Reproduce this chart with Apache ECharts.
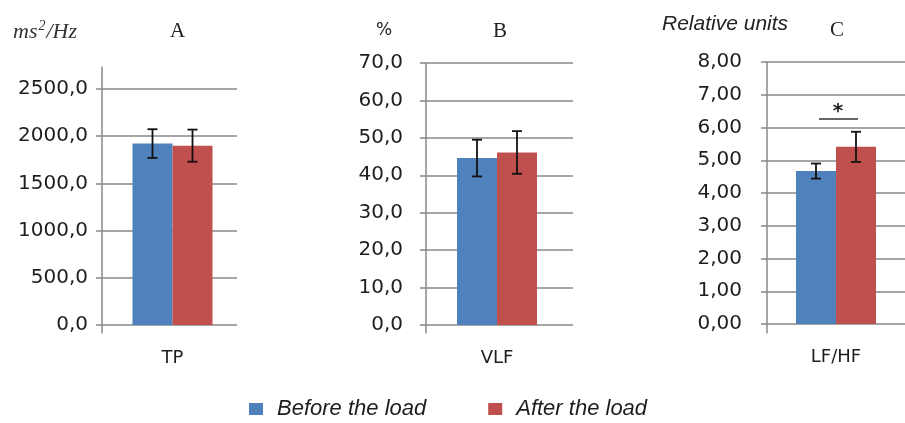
<!DOCTYPE html>
<html>
<head>
<meta charset="utf-8">
<script src="https://cdn.jsdelivr.net/npm/echarts@6/dist/echarts.min.js"></script>
<style>html,body{margin:0;padding:0;background:#fff}#c{width:905px;height:423px}</style>
</head>
<body>
<div id="c"></div>
<script>
// ---- data ----
const categories = ['TP', 'VLF', 'LF/HF'];
const seriesNames = ['Before the load', 'After the load'];
const beforeMeans = [1922, 44.6, 4.67];
const afterMeans = [1900, 46.1, 5.41];
const beforeErr = [152, 4.9, 0.23];
const afterErr = [170, 5.7, 0.46];
const axisMax = [2500, 70, 8];
const axisInterval = [500, 10, 1];
const tickLabelsA = ['0,0', '500,0', '1000,0', '1500,0', '2000,0', '2500,0'];
const tickLabelsB = ['0,0', '10,0', '20,0', '30,0', '40,0', '50,0', '60,0', '70,0'];
const tickLabelsC = ['0,00', '1,00', '2,00', '3,00', '4,00', '5,00', '6,00', '7,00', '8,00'];
const tickLabels = [tickLabelsA, tickLabelsB, tickLabelsC];
const unitLabels = ['ms', '%', 'Relative units'];
const panelLetters = ['A', 'B', 'C'];
const sigLevelC = [6.26]; // significance bar level on panel C

// ---- layout (styles only) ----
const BLUE = '#4F81BD', RED = '#C0504D', GRID = '#888888', TXT = '#1e1e1e';
const BW = 40;
const panels = [
  { left: 102, top: 89, h: 236, frameW: 135, barW: 141, lineTop: 67, lineBottom: 333, margin: 14 },
  { left: 426, top: 63, h: 262, frameW: 147, barW: 142, lineTop: 63, lineBottom: 333, margin: 23 },
  { left: 767, top: 62, h: 262, frameW: 138, barW: 143, lineTop: 62, lineBottom: 333, margin: 25 }
];

const grid = [], xAxis = [], yAxis = [], series = [];
panels.forEach((p, i) => {
  const g = grid.length;
  grid.push({ left: p.left, top: p.top, width: p.frameW, height: p.h });
  grid.push({ left: p.left, top: p.top, width: p.barW, height: p.h });
  grid.push({ left: p.left, top: p.lineTop, width: 10, height: p.lineBottom - p.lineTop });
  // frame axes
  xAxis.push({ gridIndex: g, type: 'category', data: [categories[i]], show: false });
  yAxis.push({
    gridIndex: g, type: 'value', min: 0, max: axisMax[i], interval: axisInterval[i],
    axisLine: { show: false },
    axisTick: { show: true, inside: false, length: 6, lineStyle: { color: GRID, width: 1.5 } },
    splitLine: { show: true, lineStyle: { color: GRID, width: 1.5 } },
    axisLabel: {
      margin: p.margin, color: TXT, fontFamily: 'DejaVu Sans', fontSize: 20,
      formatter: v => tickLabels[i][Math.round(v / axisInterval[i])]
    }
  });
  // bar axes
  xAxis.push({
    gridIndex: g + 1, type: 'category', data: [categories[i]],
    axisLine: { show: false }, axisTick: { show: false }, splitLine: { show: false },
    axisLabel: { margin: 24, color: TXT, fontFamily: 'DejaVu Sans', fontSize: 18 }
  });
  yAxis.push({ gridIndex: g + 1, type: 'value', min: 0, max: axisMax[i], interval: axisInterval[i], show: false });
  // axis line only
  xAxis.push({ gridIndex: g + 2, type: 'category', data: [''], show: false });
  yAxis.push({
    gridIndex: g + 2, type: 'value', min: 0, max: 1,
    axisLine: { show: true, lineStyle: { color: GRID, width: 1.5 } },
    axisTick: { show: false }, axisLabel: { show: false }, splitLine: { show: false }
  });
  const ax = g + 1;
  series.push({
    name: seriesNames[0], type: 'bar', xAxisIndex: ax, yAxisIndex: ax,
    barWidth: BW, barGap: '0%', itemStyle: { color: BLUE }, data: [beforeMeans[i]]
  });
  series.push({
    name: seriesNames[1], type: 'bar', xAxisIndex: ax, yAxisIndex: ax,
    barWidth: BW, barGap: '0%', itemStyle: { color: RED }, data: [afterMeans[i]]
  });
  series.push({
    name: 'err' + i, type: 'custom', xAxisIndex: ax, yAxisIndex: ax, z: 5,
    data: [
      [0, beforeMeans[i] - beforeErr[i], beforeMeans[i] + beforeErr[i], -1],
      [0, afterMeans[i] - afterErr[i], afterMeans[i] + afterErr[i], 1]
    ],
    renderItem: (params, api) => {
      const lo = api.coord([api.value(0), api.value(1)]);
      const hi = api.coord([api.value(0), api.value(2)]);
      const x = lo[0] + api.value(3) * BW / 2;
      const cap = 5;
      const st = { stroke: '#111', lineWidth: 1.8 };
      return {
        type: 'group', children: [
          { type: 'line', shape: { x1: x, y1: lo[1], x2: x, y2: hi[1] }, style: st },
          { type: 'line', shape: { x1: x - cap, y1: lo[1], x2: x + cap, y2: lo[1] }, style: st },
          { type: 'line', shape: { x1: x - cap, y1: hi[1], x2: x + cap, y2: hi[1] }, style: st }
        ]
      };
    }
  });
  if (i === 2) {
    series.push({
      name: 'sig', type: 'custom', xAxisIndex: ax, yAxisIndex: ax, z: 5,
      data: [[0, sigLevelC[0]]],
      renderItem: (params, api) => {
        const c = api.coord([api.value(0), api.value(1)]);
        return {
          type: 'group', children: [
            { type: 'line', shape: { x1: c[0] - BW / 2 + 3, y1: c[1], x2: c[0] + BW / 2 + 2, y2: c[1] },
              style: { stroke: '#333', lineWidth: 1.5 } },
            { type: 'text', x: c[0] + 2, y: c[1] + 3,
              style: { text: '*', fill: '#222', font: 'bold 20px "DejaVu Sans"', align: 'center', verticalAlign: 'bottom' } }
          ]
        };
      }
    });
  }
});

const title = [
  { text: '{i|' + unitLabels[0] + '}{s|2}{i|/Hz}', left: 13, top: 19, padding: 0,
    textStyle: { fontWeight: 'normal', rich: {
      i: { fontFamily: 'Liberation Serif', fontStyle: 'italic', fontWeight: 'normal', fontSize: 22, color: '#333' },
      s: { fontFamily: 'Liberation Serif', fontStyle: 'italic', fontWeight: 'normal', fontSize: 14, color: '#333', padding: [0, 1, 12, 1] }
    } } },
  { text: panelLetters[0], left: 170, top: 21, padding: 0,
    textStyle: { fontFamily: 'Liberation Serif', fontWeight: 'normal', fontSize: 21, color: '#222' } },
  { text: unitLabels[1], left: 376, top: 22, padding: 0,
    textStyle: { fontFamily: 'DejaVu Sans', fontWeight: 'normal', fontSize: 17, color: '#222' } },
  { text: panelLetters[1], left: 493, top: 21, padding: 0,
    textStyle: { fontFamily: 'Liberation Serif', fontWeight: 'normal', fontSize: 21, color: '#222' } },
  { text: unitLabels[2], left: 662, top: 14, padding: 0,
    textStyle: { fontFamily: 'Liberation Sans', fontStyle: 'italic', fontWeight: 'normal', fontSize: 21, color: '#222' } },
  { text: panelLetters[2], left: 830, top: 20, padding: 0,
    textStyle: { fontFamily: 'Liberation Serif', fontWeight: 'normal', fontSize: 21, color: '#222' } }
];

const option = {
  animation: false,
  backgroundColor: '#fff',
  title,
  legend: {
    data: seriesNames, left: 249, top: 398, padding: 0,
    icon: 'rect', itemWidth: 14, itemHeight: 12, itemGap: 62,
    textStyle: { fontFamily: 'Liberation Sans', fontStyle: 'italic', fontSize: 22, color: TXT, padding: [0, 0, 0, 9] }
  },
  grid, xAxis, yAxis, series
};
const chart = echarts.init(document.getElementById('c'), null, { renderer: 'canvas' });
chart.setOption(option);
</script>
</body>
</html>
